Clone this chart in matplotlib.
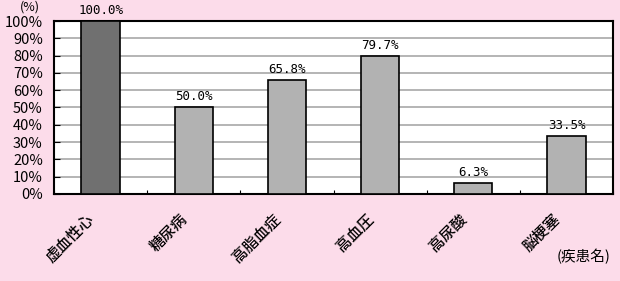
import matplotlib.pyplot as plt
import numpy as np

plt.rcParams['font.family'] = ['Noto Sans CJK JP', 'DejaVu Sans']

# 疾患名と割合
categories = ["虚血性心", "糖尿病", "高脂血症", "高血圧", "高尿酸", "脳梗塞"]
values = [100.0, 50.0, 65.8, 79.7, 6.3, 33.5]
value_labels = ["100.0%", "50.0%", "65.8%", "79.7%", "6.3%", "33.5%"]
bar_colors = ["#707070", "#b2b2b2", "#b2b2b2", "#b2b2b2", "#b2b2b2", "#b2b2b2"]
yticks = list(range(0, 101, 10))

bg = "#fcdcea"
fig = plt.figure(figsize=(6.2, 2.81), dpi=100, facecolor=bg)
ax = fig.add_axes([0.087, 0.310, 0.902, 0.615])
ax.set_facecolor("white")

x = np.arange(len(categories))
ax.bar(x, values, width=0.41, color=bar_colors, edgecolor="black", linewidth=1.2, zorder=3)

# 値ラベル
for xi, v, lab in zip(x, values, value_labels):
    ax.text(xi, v + 2.5, lab, ha="center", va="bottom", fontsize=9,
            family="DejaVu Sans Mono", clip_on=False)

ax.set_xlim(-0.5, len(categories) - 0.5)
ax.set_ylim(0, 100)
ax.set_yticks(yticks)
ax.set_yticklabels([f"{t}%" for t in yticks], fontsize=10.5)
ax.yaxis.grid(True, color="#a8a8a8", linewidth=1.2, zorder=0)
ax.tick_params(axis="y", direction="in", length=4, pad=8)

# x軸: 区切りの目盛りのみ
ax.set_xticks(np.arange(-0.5, len(categories), 1.0))
ax.set_xticklabels([])
ax.tick_params(axis="x", direction="in", length=3)
trans = ax.get_xaxis_transform()
for xi, c in zip(x, categories):
    ax.text(xi - 0.16, -0.095, c, rotation=45, ha="right", va="top",
            fontsize=11, weight="medium", rotation_mode="anchor", transform=trans)

for s in ax.spines.values():
    s.set_linewidth(1.5)
    s.set_color("black")

fig.text(0.048, 0.975, "(%)", fontsize=9, ha="center", va="center")
fig.text(0.942, 0.088, "(疾患名)", fontsize=10.5, ha="center", va="center")

fig.savefig("out.png", dpi=100, facecolor=bg)
